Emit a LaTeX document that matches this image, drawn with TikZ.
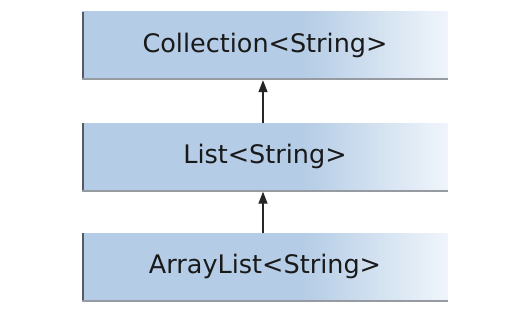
\documentclass[tikz,border=0pt]{standalone}
\usepackage{fontspec}
\setmainfont{DejaVu Sans}
\usetikzlibrary{arrows.meta}
\definecolor{boxblue}{RGB}{180,204,229}
\definecolor{boxwhite}{RGB}{240,245,251}
\definecolor{edgedark}{RGB}{85,90,98}
\definecolor{edgeshadow}{RGB}{150,155,162}
\pgfdeclarehorizontalshading{boxshade}{100bp}{color(0bp)=(boxblue); color(25bp)=(boxblue); color(55bp)=(boxblue); color(75bp)=(boxwhite); color(100bp)=(boxwhite)}
\tikzset{
  classbox/.style={shading=boxshade, minimum width=366pt, minimum height=66pt,
    inner sep=0pt, font=\fontsize{25.5}{30}\selectfont, text=black!90},
  shadowedge/.style={draw=edgeshadow, line width=2pt},
  darkedge/.style={draw=edgedark, line width=2pt},
  inherit/.style={draw=black!85, line width=1.3pt, -{Triangle[length=12pt,width=9pt]}}
}
\begin{document}
\begin{tikzpicture}[x=1pt,y=-1pt]
\useasboundingbox (0,0) rectangle (508,312);
\node[classbox] (coll) at (265,45) {Collection<String>};
\node[classbox] (list) at (265,156.5) {List<String>};
\node[classbox] (alist) at (265,266.5) {ArrayList<String>};
\foreach \n in {coll,list,alist}{
  \draw[shadowedge] ([yshift=-1pt]\n.south west) -- ([yshift=-1pt]\n.south east);
  \draw[darkedge] ([xshift=1pt]\n.south west) -- ([xshift=1pt]\n.north west);
}
\draw[inherit] ([xshift=-2pt]list.north) -- ([xshift=-2pt,yshift=-2pt]coll.south);
\draw[inherit] ([xshift=-2pt]alist.north) -- ([xshift=-2pt,yshift=-2pt]list.south);
\end{tikzpicture}
\end{document}
